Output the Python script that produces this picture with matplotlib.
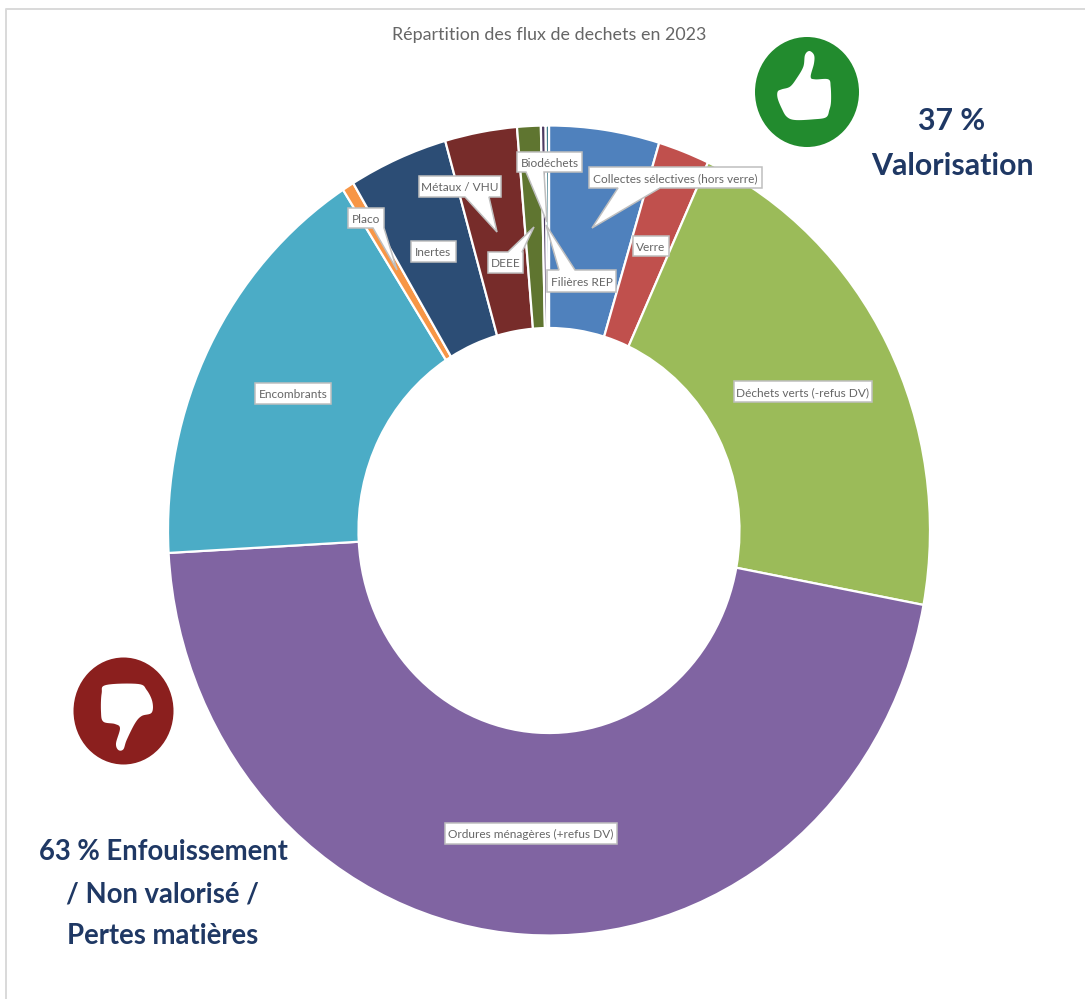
import numpy as np
import matplotlib
matplotlib.use("Agg")
import matplotlib.pyplot as plt
from matplotlib.patches import Polygon, Ellipse

W, H = 1085, 999

categories = ["Collectes sélectives (hors verre)", "Verre", "Déchets verts (-refus DV)",
              "Ordures ménagères (+refus DV)", "Encombrants", "Placo", "Inertes",
              "Métaux / VHU", "DEEE", "Filières REP", "Biodéchets"]
values = [4.67, 2.18, 21.09, 46.17, 16.79, 0.5, 4.2, 3.05, 1.0, 0.2, 0.14]
colors = ["#4F81BD", "#C0504D", "#9BBB59", "#8064A2", "#4BACC6", "#F79646",
          "#2C4D75", "#772C2A", "#5F7530", "#4D3B62", "#2C6F7F"]

TITLE = "Répartition des flux de dechets en 2023"
GOOD = ["37 %", "Valorisation"]
BAD = ["63 % Enfouissement", "/ Non valorisé /", "Pertes matières"]

# layout (pixels, y down)
BOXES = {
    "Collectes sélectives (hors verre)": (589, 167, 762, 188),
    "Verre": (633, 236, 669, 256),
    "Déchets verts (-refus DV)": (734, 381, 872, 402),
    "Ordures ménagères (+refus DV)": (445, 823, 617, 844),
    "Encombrants": (255, 383, 331, 404),
    "Placo": (348, 208, 384, 228),
    "Inertes": (411, 241, 456, 262),
    "Métaux / VHU": (419, 176, 501, 197),
    "DEEE": (488, 252, 523, 273),
    "Filières REP": (547, 270, 616, 292),
    "Biodéchets": (517, 152, 582, 172),
}
# side, base start, base end, tip x, tip y
POINTERS = {
    "Collectes sélectives (hors verre)": ("bottom", 618, 660, 592, 228),
    "Placo": ("bottom", 373, 384, 397, 270),
    "Métaux / VHU": ("bottom", 465, 489, 497, 232),
    "DEEE": ("top", 508, 522, 534, 227),
    "Filières REP": ("top", 559, 575, 546, 225),
    "Biodéchets": ("bottom", 526, 544, 547, 222),
}

plt.rcParams["font.family"] = ["Lato", "DejaVu Sans"]
fig = plt.figure(figsize=(W / 100, H / 100), dpi=100, facecolor="white")


def fig_rect(x0, y0, x1, y1):
    return [x0 / W, 1 - y1 / H, (x1 - x0) / W, (y1 - y0) / H]


pie_ax = fig.add_axes(fig_rect(168, 125.5, 930, 935.5))
pie_ax.pie(values, colors=colors, startangle=90, counterclock=False, radius=1,
           wedgeprops=dict(width=0.5, edgecolor="white", linewidth=1.6))
pie_ax.set_aspect("auto")
pie_ax.set_xlim(-1, 1)
pie_ax.set_ylim(-1, 1)

ov = fig.add_axes([0, 0, 1, 1], facecolor="none")
ov.set_xlim(0, W)
ov.set_ylim(H, 0)
ov.axis("off")

# chart frame
ov.plot([5.5, 5.5, W], [H, 9.0, 9.0], color="#D9D9D9", lw=1.4, zorder=1)

ov.text(549, 35, TITLE, ha="center", va="center", fontsize=12.9, color="#666666")

GREY = "#BFBFBF"
for name in categories:
    x0, y0, x1, y1 = BOXES[name]
    pts = [(x0, y0)]
    if name in POINTERS:
        side, b0, b1, tx, ty = POINTERS[name]
        if side == "top":
            pts += [(b0, y0), (tx, ty), (b1, y0), (x1, y0), (x1, y1), (x0, y1)]
        else:
            pts += [(x1, y0), (x1, y1), (b1, y1), (tx, ty), (b0, y1), (x0, y1)]
    else:
        pts += [(x1, y0), (x1, y1), (x0, y1)]
    ov.add_patch(Polygon(pts, closed=True, fc="white", ec=GREY, lw=1.1, zorder=3))
    ov.text((x0 + x1) / 2, (y0 + y1) / 2 + 1.2, name, ha="center", va="center",
            fontsize=8.6, color="#666666", zorder=4)


def smooth(points, n=8):
    p = np.array(points, float)
    out = []
    m = len(p)
    for i in range(m):
        a, b, c, d = p[i - 1], p[i], p[(i + 1) % m], p[(i + 2) % m]
        for t in np.linspace(0, 1, n, endpoint=False):
            out.append(0.5 * (2 * b + (c - a) * t + (2 * a - 5 * b + 4 * c - d) * t ** 2
                              + (3 * b - a - 3 * c + d) * t ** 3))
    return np.array(out)


thumb_up = [(113, 215), (125, 208), (150, 200), (170, 175), (190, 140), (195, 105), (208, 93),
            (222, 105), (222, 130), (212, 170), (225, 178), (265, 178), (272, 200), (273, 245),
            (268, 270), (258, 292), (220, 298), (165, 300), (140, 290), (125, 265), (113, 235)]
thumb_down = [(318, 135), (415, 132), (440, 150), (457, 185), (455, 218), (425, 228), (405, 250),
              (380, 300), (370, 328), (355, 330), (348, 310), (360, 265), (345, 252), (310, 245),
              (303, 215), (305, 160)]

ov.add_patch(Ellipse((807, 92), 104, 110, fc="#228B2E", ec="none", zorder=3))
ov.add_patch(Polygon(smooth(thumb_up) / 3 + np.array([740, 20]), closed=True, fc="white", ec="none", zorder=4))
ov.add_patch(Ellipse((123.5, 711), 100, 107, fc="#8B1F1E", ec="none", zorder=3))
ov.add_patch(Polygon(smooth(thumb_down) / 3 + np.array([0, 640]), closed=True, fc="white", ec="none", zorder=4))

NAVY = "#1F3864"
for s, y in zip(GOOD, [121.5, 166]):
    ov.text(952, y, s, ha="center", va="center", fontsize=21.8, fontweight="bold", color=NAVY)
for s, y in zip(BAD, [852, 894, 936]):
    ov.text(163, y, s, ha="center", va="center", fontsize=19.85, fontweight="bold", color=NAVY)

fig.savefig("out.png", dpi=100, facecolor="white")
